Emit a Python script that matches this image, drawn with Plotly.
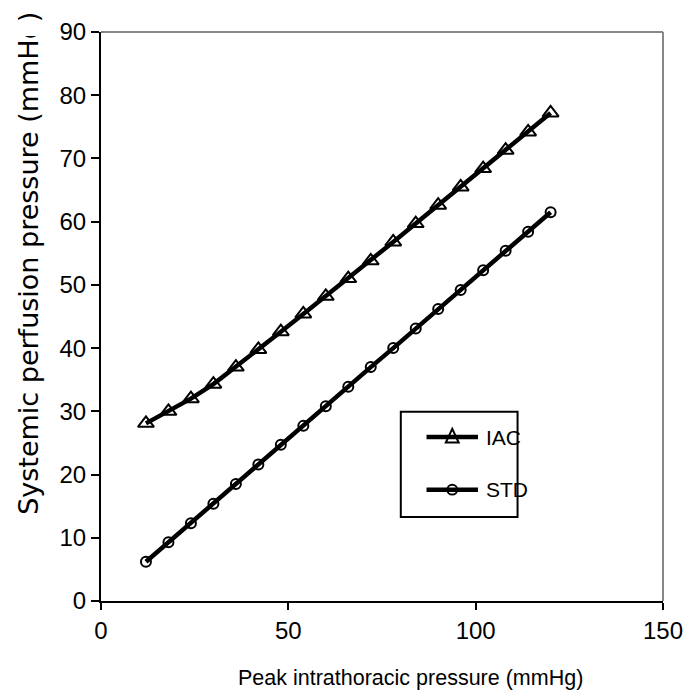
import plotly.graph_objects as go

peak_pressure = [12, 18, 24, 30, 36, 42, 48, 54, 60, 66, 72, 78, 84, 90, 96, 102, 108, 114, 120]
iac = [28.1, 30.0, 32.0, 34.3, 37.0, 39.8, 42.6, 45.4, 48.2, 51.0, 53.8, 56.8, 59.7, 62.6, 65.5, 68.4, 71.3, 74.2, 77.2]
std = [6.2, 9.3, 12.3, 15.4, 18.5, 21.6, 24.7, 27.7, 30.8, 33.9, 37.0, 40.0, 43.1, 46.2, 49.2, 52.3, 55.4, 58.4, 61.5]
series_names = ["IAC", "STD"]
x_title = "Peak intrathoracic pressure (mmHg)"
y_title = "Systemic perfusion pressure (mmHg)"
x_ticks = [0, 50, 100, 150]
y_ticks = [0, 10, 20, 30, 40, 50, 60, 70, 80, 90]

FONT = "Liberation Sans, Arial, sans-serif"

# figure is 8px smaller than the window on each side to allow for the page's body margin
W, H = 685, 692
ML, MR, MT, MB = 93, 24, 10, 99
PW, PH = W - ML - MR, H - MT - MB


def px(xp):  # figure pixel -> paper x
    return (xp - ML) / PW


def py(yp):  # figure pixel -> paper y
    return (H - MB - yp) / PH


fig = go.Figure()
fig.add_trace(go.Scatter(
    x=peak_pressure, y=iac, name=series_names[0], mode="lines+markers",
    line=dict(color="black", width=4.5),
    marker=dict(symbol="triangle-up-open", size=14, color="black", line=dict(width=2, color="black")),
    showlegend=False,
))
fig.add_trace(go.Scatter(
    x=peak_pressure, y=std, name=series_names[1], mode="lines+markers",
    line=dict(color="black", width=4.5),
    marker=dict(symbol="circle-open", size=10, color="black", line=dict(width=2, color="black")),
    showlegend=False,
))

# legend drawn as decoration (positions in figure pixels, offset by the 8px page margin)
OFF = 8
box = (404 - OFF, 407 - OFF, 522 - OFF, 515 - OFF)
row_y = [433 - OFF, 487 - OFF]
line_x = (430 - OFF, 482 - OFF)
sym_x = 456 - OFF
text_x = 488 - OFF

shapes = [
    dict(type="line", xref="paper", yref="paper", x0=0, x1=1, y0=1, y1=1,
         line=dict(color="#888888", width=2)),
    dict(type="line", xref="paper", yref="paper", x0=1, x1=1, y0=0, y1=1,
         line=dict(color="#888888", width=2)),
    dict(type="rect", xref="paper", yref="paper",
         x0=px(box[0]), x1=px(box[2]), y0=py(box[3]), y1=py(box[1]),
         line=dict(color="black", width=2), fillcolor="white", layer="above"),
]
for ry in row_y:
    shapes.append(dict(type="line", xref="paper", yref="paper",
                       x0=px(line_x[0]), x1=px(line_x[1]), y0=py(ry), y1=py(ry),
                       line=dict(color="black", width=4.5), layer="above"))
# triangle symbol
tri_h, tri_w = 14, 13
shapes.append(dict(
    type="path", xref="paper", yref="paper", layer="above",
    path="M {} {} L {} {} L {} {} Z".format(
        px(sym_x - tri_w / 2), py(row_y[0] + tri_h * 0.4),
        px(sym_x + tri_w / 2), py(row_y[0] + tri_h * 0.4),
        px(sym_x), py(row_y[0] - tri_h * 0.6)),
    line=dict(color="black", width=2), fillcolor="rgba(0,0,0,0)"))
# circle symbol
cr = 5
shapes.append(dict(
    type="circle", xref="paper", yref="paper", layer="above",
    x0=px(sym_x - cr), x1=px(sym_x + cr), y0=py(row_y[1] + cr), y1=py(row_y[1] - cr),
    line=dict(color="black", width=2), fillcolor="rgba(0,0,0,0)"))

annotations = [
    dict(text=x_title, xref="paper", yref="paper", x=0.55, y=-0.1355,
         xanchor="center", yanchor="middle", showarrow=False, font=dict(size=21.5)),
    dict(text=y_title, xref="paper", yref="paper", x=px(27.5 - OFF), y=py(515 - OFF),
         xanchor="center", yanchor="bottom", textangle=-90, showarrow=False,
         font=dict(size=27, family="DejaVu Sans, sans-serif")),
    # white cover that trims the top of the vertical title, as in the reference
    dict(text=" ", xref="paper", yref="paper", x=px(0), y=py(0),
         xanchor="left", yanchor="top", showarrow=False, width=48, height=14,
         bgcolor="white", borderpad=0, borderwidth=0),
]
for name, ry in zip(series_names, row_y):
    annotations.append(dict(text=name, xref="paper", yref="paper", x=px(text_x), y=py(ry),
                            xanchor="left", yanchor="middle", showarrow=False,
                            font=dict(size=21)))

fig.update_layout(
    width=W, height=H,
    margin=dict(l=ML, r=MR, t=MT, b=MB),
    paper_bgcolor="white", plot_bgcolor="white",
    font=dict(family=FONT, size=24, color="black"),
    showlegend=False,
    xaxis=dict(
        range=[0, 150], tickvals=x_ticks, ticks="outside", ticklen=7, tickwidth=2,
        tickcolor="black", showline=True, linecolor="black", linewidth=2,
        showgrid=False, zeroline=False, tickfont=dict(size=24),
        ticklabeloverflow="allow",
    ),
    yaxis=dict(
        range=[0, 90], tickvals=y_ticks, ticks="outside", ticklen=8, tickwidth=2,
        tickcolor="black", showline=True, linecolor="black", linewidth=2,
        showgrid=False, zeroline=False, tickfont=dict(size=24),
        ticklabeloverflow="allow",
    ),
    shapes=shapes,
    annotations=annotations,
)

fig.write_html("out.html")
